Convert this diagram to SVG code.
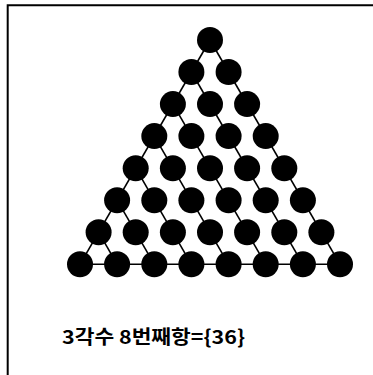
<svg xmlns="http://www.w3.org/2000/svg" width="373" height="375" viewBox="0 0 373 375">
<style>
.frame{fill:none;stroke:#000;stroke-width:2}
.edge{stroke:#000;stroke-width:1.6;fill:none}
.dot{fill:#000}
.lbl{font-family:"Noto Sans CJK KR","Noto Sans",sans-serif;font-weight:bold;font-size:19px;fill:#000}
</style>
<rect width="373" height="375" fill="#fff"/>
<path class="frame" d="M7.7,375 V5.3 H373"/>
<g id="connectors">
<line class="edge" x1="210" y1="40" x2="80" y2="264.3"/>
<line class="edge" x1="80" y1="264.3" x2="340" y2="264.3"/>
<line class="edge" x1="210" y1="40" x2="340" y2="264.3"/>
<line class="edge" x1="191.4" y1="72" x2="302.9" y2="264.3"/>
<line class="edge" x1="172.9" y1="104.1" x2="265.7" y2="264.3"/>
<line class="edge" x1="154.3" y1="136.1" x2="228.6" y2="264.3"/>
<line class="edge" x1="135.7" y1="168.2" x2="191.4" y2="264.3"/>
<line class="edge" x1="117.1" y1="200.2" x2="154.3" y2="264.3"/>
<line class="edge" x1="98.6" y1="232.2" x2="117.1" y2="264.3"/>
</g>
<g id="n0_0"><circle class="dot" cx="210" cy="40" r="13"/></g>
<g id="n1_0"><circle class="dot" cx="191.4" cy="72" r="13"/></g>
<g id="n1_1"><circle class="dot" cx="228.6" cy="72" r="13"/></g>
<g id="n2_0"><circle class="dot" cx="172.9" cy="104.1" r="13"/></g>
<g id="n2_1"><circle class="dot" cx="210" cy="104.1" r="13"/></g>
<g id="n2_2"><circle class="dot" cx="247.1" cy="104.1" r="13"/></g>
<g id="n3_0"><circle class="dot" cx="154.3" cy="136.1" r="13"/></g>
<g id="n3_1"><circle class="dot" cx="191.4" cy="136.1" r="13"/></g>
<g id="n3_2"><circle class="dot" cx="228.6" cy="136.1" r="13"/></g>
<g id="n3_3"><circle class="dot" cx="265.7" cy="136.1" r="13"/></g>
<g id="n4_0"><circle class="dot" cx="135.7" cy="168.2" r="13"/></g>
<g id="n4_1"><circle class="dot" cx="172.9" cy="168.2" r="13"/></g>
<g id="n4_2"><circle class="dot" cx="210" cy="168.2" r="13"/></g>
<g id="n4_3"><circle class="dot" cx="247.1" cy="168.2" r="13"/></g>
<g id="n4_4"><circle class="dot" cx="284.3" cy="168.2" r="13"/></g>
<g id="n5_0"><circle class="dot" cx="117.1" cy="200.2" r="13"/></g>
<g id="n5_1"><circle class="dot" cx="154.3" cy="200.2" r="13"/></g>
<g id="n5_2"><circle class="dot" cx="191.4" cy="200.2" r="13"/></g>
<g id="n5_3"><circle class="dot" cx="228.6" cy="200.2" r="13"/></g>
<g id="n5_4"><circle class="dot" cx="265.7" cy="200.2" r="13"/></g>
<g id="n5_5"><circle class="dot" cx="302.9" cy="200.2" r="13"/></g>
<g id="n6_0"><circle class="dot" cx="98.6" cy="232.2" r="13"/></g>
<g id="n6_1"><circle class="dot" cx="135.7" cy="232.2" r="13"/></g>
<g id="n6_2"><circle class="dot" cx="172.9" cy="232.2" r="13"/></g>
<g id="n6_3"><circle class="dot" cx="210" cy="232.2" r="13"/></g>
<g id="n6_4"><circle class="dot" cx="247.1" cy="232.2" r="13"/></g>
<g id="n6_5"><circle class="dot" cx="284.3" cy="232.2" r="13"/></g>
<g id="n6_6"><circle class="dot" cx="321.4" cy="232.2" r="13"/></g>
<g id="n7_0"><circle class="dot" cx="80" cy="264.3" r="13"/></g>
<g id="n7_1"><circle class="dot" cx="117.1" cy="264.3" r="13"/></g>
<g id="n7_2"><circle class="dot" cx="154.3" cy="264.3" r="13"/></g>
<g id="n7_3"><circle class="dot" cx="191.4" cy="264.3" r="13"/></g>
<g id="n7_4"><circle class="dot" cx="228.6" cy="264.3" r="13"/></g>
<g id="n7_5"><circle class="dot" cx="265.7" cy="264.3" r="13"/></g>
<g id="n7_6"><circle class="dot" cx="302.9" cy="264.3" r="13"/></g>
<g id="n7_7"><circle class="dot" cx="340" cy="264.3" r="13"/></g>
<g id="label"><text class="lbl" x="62" y="344" textLength="183" lengthAdjust="spacingAndGlyphs">3각수 8번째항={36}</text></g>
</svg>
